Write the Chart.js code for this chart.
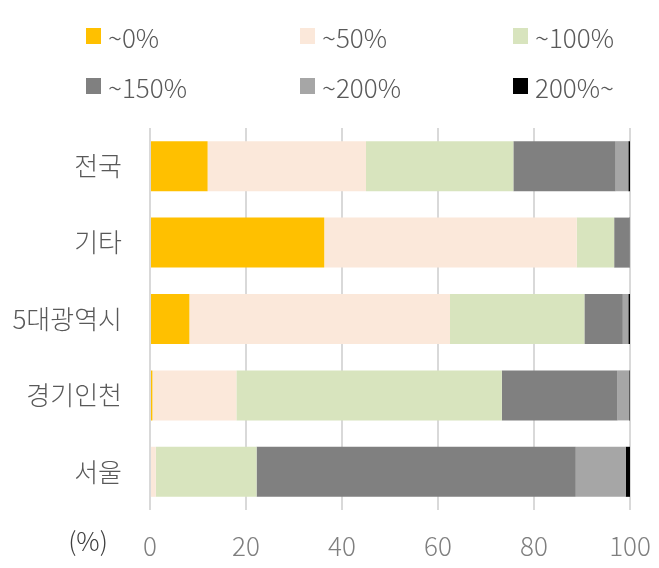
<!DOCTYPE html>
<html>
<head>
<meta charset="utf-8">
<script src="https://cdn.jsdelivr.net/npm/chart.js@4"></script>
<style>
  body { margin: 0; background: #fff; }
  #wrap { position: relative; width: 659px; height: 568px; }
  #legend { position: absolute; left: 0; top: 0; width: 659px; height: 120px; }
  .item { position: absolute; display: flex; align-items: center; height: 30px;
          font-family: 'Noto Sans CJK KR', 'Noto Sans', sans-serif; font-weight: 300;
          font-size: 26px; color: #595959; }
  .box { width: 15px; height: 16px; margin-right: 7px; }
</style>
</head>
<body>
<div id="wrap">
  <canvas id="chart" width="659" height="568"></canvas>
  <div id="legend"></div>
</div>
<script>
// categories (top to bottom)
const categories = ['전국', '기타', '5대광역시', '경기인천', '서울'];
const seriesLabels = ['~0%', '~50%', '~100%', '~150%', '~200%', '200%~'];
const seriesColors = ['#FFC000', '#FBE8DA', '#D8E4BE', '#808080', '#A6A6A6', '#000000'];

// share of each bucket (%)
const share0 = [12.0, 36.3, 8.2, 0.5, 0];
const share50 = [33.0, 52.6, 54.3, 17.5, 1.2];
const share100 = [30.7, 7.8, 28.0, 55.3, 21.0];
const share150 = [21.3, 3.1, 8.0, 24.1, 66.5];
const share200 = [2.65, 0.1, 1.15, 2.45, 10.4];
const share200plus = [0.35, 0.1, 0.35, 0.15, 0.9];
const xTicks = [0, 20, 40, 60, 80, 100];
const unitLabel = '(%)';

const seriesData = [share0, share50, share100, share150, share200, share200plus];
const FONT = "'Noto Sans CJK KR', 'Noto Sans', sans-serif";

// draws the (%) unit next to the x axis labels
const unitPlugin = {
  id: 'unit',
  afterDraw(chart) {
    const ctx = chart.ctx;
    ctx.save();
    ctx.font = '300 26px ' + FONT;
    ctx.fillStyle = '#404040';
    ctx.textAlign = 'center';
    ctx.textBaseline = 'middle';
    ctx.fillText(unitLabel, 88, 541);
    ctx.restore();
  }
};

const chart = new Chart(document.getElementById('chart'), {
  type: 'bar',
  data: {
    labels: categories,
    datasets: seriesLabels.map((lab, i) => ({
      label: lab,
      data: seriesData[i],
      backgroundColor: seriesColors[i],
      borderWidth: 0,
      barPercentage: 0.655,
      categoryPercentage: 1.0
    }))
  },
  options: {
    indexAxis: 'y',
    responsive: false,
    animation: false,
    devicePixelRatio: 1,
    layout: { padding: { top: 128, right: 29, left: 0, bottom: 0 } },
    plugins: {
      legend: { display: false },
      tooltip: { enabled: false }
    },
    scales: {
      x: {
        stacked: true,
        min: 0,
        max: 100,
        afterBuildTicks: s => { s.ticks = xTicks.map(v => ({ value: v })); },
        afterFit: s => { s.height = 58; s.paddingLeft = 0; s.paddingRight = 0; },
        grid: { color: '#d9d9d9', lineWidth: 2, drawTicks: false },
        border: { display: false },
        ticks: {
          padding: 21,
          color: '#7f7f7f',
          font: { family: FONT, size: 26, weight: 300 }
        }
      },
      y: {
        stacked: true,
        afterFit: s => { s.width = 150; },
        grid: { display: false, drawTicks: false },
        border: { display: false },
        ticks: {
          padding: 28,
          color: '#595959',
          font: { family: FONT, size: 26, weight: 300 }
        }
      }
    }
  },
  plugins: [unitPlugin]
});

// html legend laid out in 3 columns x 2 rows
const legendEl = document.getElementById('legend');
const colX = [86, 300, 513];
const rowY = [21, 71];
chart.data.datasets.forEach((ds, i) => {
  const item = document.createElement('div');
  item.className = 'item';
  item.style.left = colX[i % 3] + 'px';
  item.style.top = rowY[Math.floor(i / 3)] + 'px';
  item.innerHTML = `<span class="box" style="background:${ds.backgroundColor}"></span><span>${ds.label}</span>`;
  legendEl.appendChild(item);
});
</script>
</body>
</html>
